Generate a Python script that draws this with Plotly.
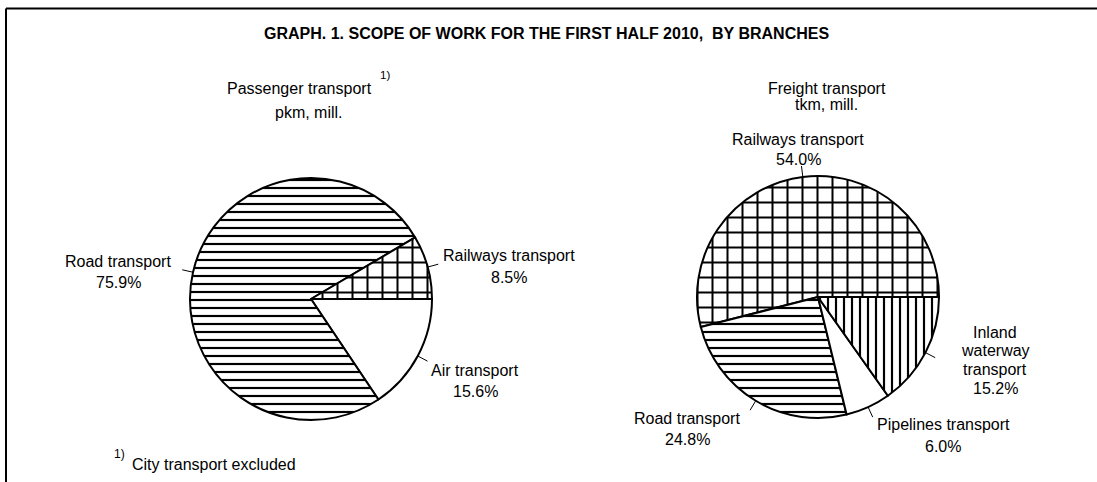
import math
import plotly.graph_objects as go

# ---------------- data ----------------
title_text = "GRAPH. 1. SCOPE OF WORK FOR THE FIRST HALF 2010,  BY BRANCHES"

pass_header = ["Passenger transport", "pkm, mill."]
pass_labels = ["Air transport", "Road transport", "Railways transport"]
pass_values = [15.6, 75.9, 8.5]

freight_header = ["Freight transport", "tkm, mill."]
freight_labels = ["Railways transport", "Road transport", "Pipelines transport",
                  "Inland waterway transport"]
freight_values = [54.0, 24.8, 6.0, 15.2]

footnote_mark = "1)"
footnote_text = "City transport excluded"

# ---------------- layout / style ----------------
W, H = 1097, 482
FONT = "Liberation Sans, Arial, sans-serif"
R = 121  # pie radius in px
LEFT_C = (311, 299)
RIGHT_C = (818, 297)

hatch = {"Road transport": ("-", 8, 0.27),
         "Railways transport": ("+", 15, 0.25),
         "Air transport": ("", 8, 0.3),
         "Pipelines transport": ("", 8, 0.3),
         "Inland waterway transport": ("|", 8, 0.27)}

wrap = {"Inland waterway transport": ["Inland", "waterway", "transport"]}

# label placement: (center x px, first-line center y px, line spacing px)
left_pos = {"Road transport": (118, 261, 21),
            "Railways transport": (509, 255, 22),
            "Air transport": (475, 370, 21)}
right_pos = {"Railways transport": (798, 139, 21),
             "Road transport": (687, 418, 21.5),
             "Pipelines transport": (943, 424, 22),
             "Inland waterway transport": (995, 332, 18.8)}


def px(x):
    return x / W


def py(y):
    return 1 - y / H


def domain(c):
    cx, cy = c
    return dict(x=[px(cx - R), px(cx + R)], y=[py(cy + R), py(cy - R)])


def pie(labels, values, c, direction):
    shapes_ = [hatch[l][0] for l in labels]
    sizes = [hatch[l][1] for l in labels]
    sol = [hatch[l][2] for l in labels]
    # both pies start at 3 o'clock; plotly places the first slice clockwise of
    # `rotation` even for counterclockwise pies, so shift by the first slice
    rot = 90.0
    if direction == "counterclockwise":
        rot = 90.0 - values[0] / sum(values) * 360.0
    return go.Pie(
        labels=labels, values=values, sort=False, direction=direction,
        rotation=rot, domain=domain(c), textinfo="none", showlegend=False,
        hoverinfo="label+percent",
        marker=dict(colors=["white"] * len(labels),
                    line=dict(color="black", width=2),
                    pattern=dict(shape=shapes_, size=sizes, solidity=sol,
                                 fgcolor="black", bgcolor="white",
                                 fillmode="replace")))


fig = go.Figure()
fig.add_trace(pie(pass_labels, pass_values, LEFT_C, "clockwise"))
fig.add_trace(pie(freight_labels, freight_values, RIGHT_C, "counterclockwise"))

annotations = []
shapes = []


def text(x, y, s, size=16, bold=False, xanchor="center"):
    annotations.append(dict(
        x=px(x), y=py(y), xref="paper", yref="paper", showarrow=False,
        text=("<b>%s</b>" % s) if bold else s, xanchor=xanchor, yanchor="middle",
        font=dict(family=FONT, size=size, color="black")))


def add_labels(labels, values, c, sign, pos):
    cx, cy = c
    total = sum(values)
    cum = 0.0
    for lab, v in zip(labels, values):
        mid = sign * (cum + v / 2) / total * 2 * math.pi
        cum += v
        x0 = cx + R * math.cos(mid)
        y0 = cy - R * math.sin(mid)
        x1 = cx + (R + 11) * math.cos(mid)
        y1 = cy - (R + 11) * math.sin(mid)
        shapes.append(dict(type="line", xref="paper", yref="paper",
                           x0=px(x0), y0=py(y0), x1=px(x1), y1=py(y1),
                           line=dict(color="black", width=1)))
        lines = wrap.get(lab, [lab]) + ["%.1f%%" % v]
        lx, ly, sp = pos[lab]
        for i, ln in enumerate(lines):
            text(lx, ly + i * sp, ln)


add_labels(pass_labels, pass_values, LEFT_C, -1, left_pos)
add_labels(freight_labels, freight_values, RIGHT_C, 1, right_pos)

# titles / headers
text(546, 34, title_text, size=16, bold=True)
text(299, 88.5, pass_header[0])
text(308.5, 112, pass_header[1])
text(385, 74.5, footnote_mark, size=11.5)
text(826.5, 88, freight_header[0])
text(826, 104, freight_header[1])

# footnote
text(112, 453.5, footnote_mark, size=12, xanchor="left")
text(130, 464, footnote_text, xanchor="left")

# frame
shapes.append(dict(type="line", xref="paper", yref="paper",
                   x0=px(6), y0=py(8.5), x1=1, y1=py(8.5),
                   line=dict(color="black", width=2)))
shapes.append(dict(type="line", xref="paper", yref="paper",
                   x0=px(6), y0=py(8.5), x1=px(6), y1=0,
                   line=dict(color="black", width=2)))

fig.update_layout(width=W, height=H, margin=dict(l=0, r=0, t=0, b=0),
                  paper_bgcolor="white", plot_bgcolor="white",
                  annotations=annotations, shapes=shapes)

fig.write_html("out.html")
